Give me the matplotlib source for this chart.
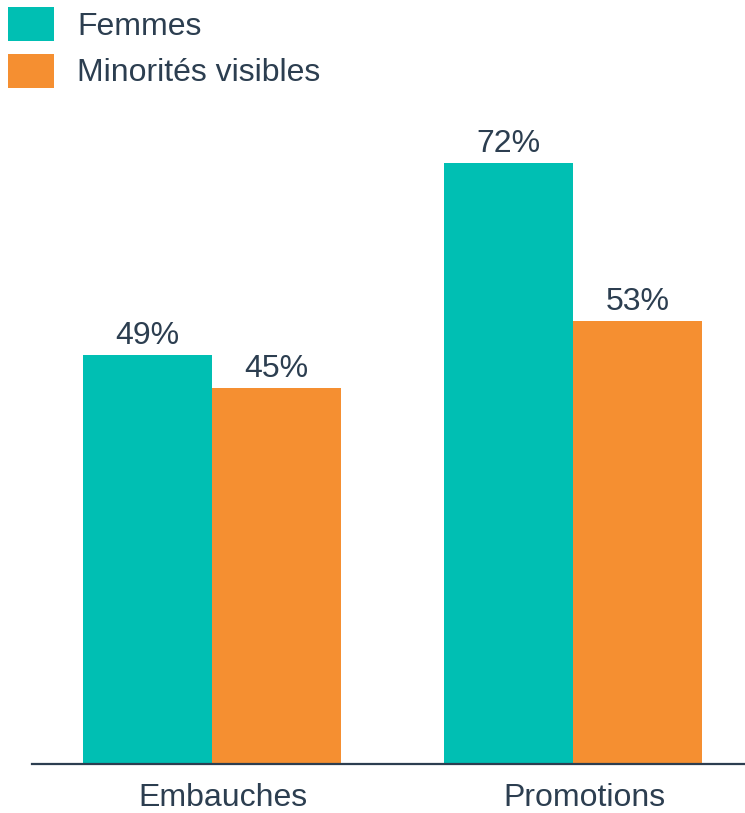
import matplotlib.pyplot as plt
import matplotlib.transforms as mtransforms
import numpy as np

# dati
categories = ["Embauches", "Promotions"]
series_names = ["Femmes", "Minorités visibles"]
femmes = [49, 72]
minorites = [45, 53]

TEAL = "#00BFB3"
ORANGE = "#F58F31"
TEXT = "#2C3E50"

plt.rcParams["font.family"] = ["Liberation Sans", "DejaVu Sans"]

fig = plt.figure(figsize=(7.45, 8.13), dpi=100)
ax = fig.add_axes([32 / 745, 49 / 813, 713 / 745, 664 / 813])

x = np.arange(len(categories))
w = 129 / 361

b1 = ax.bar(x - w / 2, femmes, width=w, color=TEAL, label=series_names[0])
b2 = ax.bar(x + w / 2, minorites, width=w, color=ORANGE, label=series_names[1])

for bars in (b1, b2):
    ax.bar_label(bars, labels=[f"{v}%" for v in bars.datavalues],
                 padding=3, fontsize=23, color=TEXT)

ax.set_xlim(-180 / 361, 533 / 361)
ax.set_ylim(0, 664 / 8.35)

ax.set_xticks(x)
ax.set_xticklabels(categories, fontsize=23, color=TEXT)
ax.tick_params(axis="x", length=0, pad=14)
ax.set_yticks([])

# etichette un po' spostate a destra come nell'originale
offset = mtransforms.ScaledTranslation(0.11, 0, fig.dpi_scale_trans)
for lab in ax.get_xticklabels():
    lab.set_transform(lab.get_transform() + offset)

for s in ("top", "right", "left"):
    ax.spines[s].set_visible(False)
ax.spines["bottom"].set_color(TEXT)
ax.spines["bottom"].set_linewidth(1.6)

leg = fig.legend(handles=[b1, b2], labels=series_names, loc="upper left",
                 bbox_to_anchor=(8 / 745, 1 - 7 / 813), frameon=False,
                 fontsize=23, borderpad=0, borderaxespad=0,
                 handlelength=1.44, handleheight=1.26, handletextpad=0.72,
                 labelspacing=0.37)
for t in leg.get_texts():
    t.set_color(TEXT)

fig.savefig("out.png", dpi=100)
